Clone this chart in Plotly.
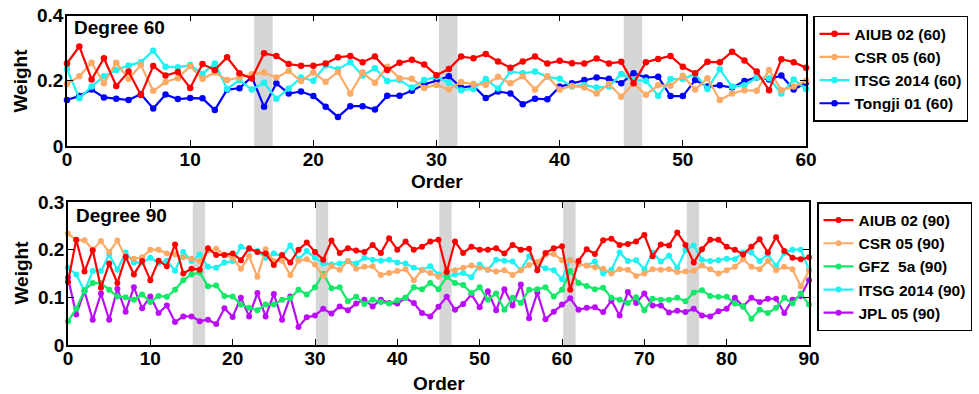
import plotly.graph_objects as go

# ---------------- data ----------------
order60 = list(range(61))
order90 = list(range(91))

aiub60 = [0.253,0.305,0.204,0.269,0.184,0.228,0.156,0.245,0.216,0.227,
          0.178,0.251,0.233,0.272,0.223,0.207,0.284,0.276,0.251,0.246,
          0.246,0.253,0.272,0.276,0.257,0.274,0.233,0.255,0.264,0.250,
          0.217,0.236,0.274,0.269,0.282,0.259,0.240,0.259,0.274,0.253,
          0.261,0.254,0.253,0.268,0.253,0.258,0.192,0.257,0.267,0.276,
          0.243,0.223,0.258,0.257,0.289,0.262,0.228,0.171,0.266,0.257,0.240]
csr60 = [0.190,0.214,0.255,0.192,0.255,0.206,0.248,0.169,0.196,0.208,
         0.245,0.206,0.225,0.202,0.210,0.220,0.225,0.210,0.230,0.199,
         0.225,0.197,0.227,0.161,0.225,0.194,0.243,0.208,0.206,0.178,
         0.187,0.173,0.196,0.190,0.188,0.212,0.192,0.214,0.173,0.214,
         0.173,0.184,0.179,0.161,0.190,0.151,0.192,0.157,0.186,0.185,
         0.215,0.173,0.208,0.141,0.161,0.171,0.169,0.233,0.171,0.182,0.200]
itsg60 = [0.236,0.146,0.182,0.214,0.233,0.247,0.257,0.292,0.243,0.241,
          0.248,0.221,0.253,0.175,0.202,0.173,0.194,0.145,0.176,0.210,
          0.200,0.247,0.235,0.257,0.216,0.238,0.199,0.202,0.179,0.202,
          0.212,0.194,0.171,0.175,0.205,0.176,0.228,0.223,0.228,0.212,
          0.206,0.182,0.187,0.179,0.182,0.221,0.202,0.200,0.154,0.205,
          0.205,0.221,0.175,0.235,0.182,0.186,0.210,0.208,0.161,0.204,0.175]
tongji60 = [0.141,0.153,0.173,0.149,0.145,0.141,0.159,0.115,0.158,0.144,
            0.147,0.146,0.110,0.173,0.177,0.212,0.120,0.192,0.161,0.167,
            0.153,0.120,0.089,0.122,0.122,0.112,0.154,0.154,0.169,0.189,
            0.200,0.214,0.179,0.184,0.147,0.167,0.161,0.128,0.145,0.143,
            0.182,0.192,0.202,0.210,0.206,0.192,0.223,0.210,0.212,0.153,
            0.153,0.202,0.182,0.186,0.179,0.199,0.210,0.204,0.216,0.173,0.194]

aiub90 = [0.132,0.221,0.154,0.199,0.120,0.171,0.130,0.185,0.148,0.176,
          0.136,0.177,0.165,0.211,0.150,0.160,0.158,0.203,0.189,0.189,
          0.192,0.178,0.203,0.195,0.192,0.168,0.189,0.173,0.200,0.215,
          0.195,0.179,0.219,0.193,0.203,0.198,0.195,0.210,0.193,0.224,
          0.200,0.217,0.200,0.206,0.217,0.221,0.153,0.217,0.193,0.206,
          0.200,0.200,0.203,0.192,0.210,0.200,0.202,0.157,0.193,0.203,
          0.207,0.116,0.176,0.201,0.191,0.220,0.223,0.210,0.212,0.217,
          0.231,0.186,0.211,0.209,0.236,0.210,0.173,0.201,0.221,0.221,
          0.206,0.200,0.190,0.206,0.222,0.194,0.226,0.197,0.183,0.180,0.184]
csr90 = [0.234,0.220,0.220,0.200,0.218,0.195,0.219,0.184,0.181,0.184,
         0.200,0.200,0.192,0.190,0.184,0.181,0.176,0.198,0.202,0.189,
         0.183,0.160,0.186,0.143,0.201,0.176,0.177,0.147,0.177,0.180,
         0.169,0.145,0.165,0.158,0.176,0.160,0.164,0.165,0.147,0.151,
         0.155,0.159,0.136,0.157,0.151,0.143,0.156,0.157,0.162,0.167,
         0.162,0.158,0.154,0.157,0.147,0.157,0.168,0.174,0.190,0.191,
         0.178,0.178,0.170,0.166,0.163,0.160,0.150,0.159,0.158,0.145,
         0.150,0.159,0.158,0.159,0.153,0.154,0.155,0.167,0.159,0.150,
         0.157,0.164,0.180,0.164,0.159,0.176,0.157,0.164,0.159,0.123,0.156]
gfz90 = [0.050,0.076,0.115,0.130,0.130,0.116,0.102,0.100,0.095,0.106,
         0.090,0.103,0.101,0.116,0.136,0.148,0.152,0.123,0.125,0.103,
         0.102,0.085,0.078,0.073,0.085,0.085,0.095,0.098,0.116,0.106,
         0.121,0.149,0.119,0.121,0.092,0.101,0.086,0.095,0.090,0.087,
         0.094,0.099,0.121,0.117,0.130,0.117,0.143,0.130,0.126,0.109,
         0.121,0.095,0.108,0.074,0.099,0.088,0.116,0.117,0.121,0.102,
         0.116,0.155,0.130,0.124,0.117,0.120,0.099,0.095,0.088,0.100,
         0.073,0.097,0.095,0.095,0.099,0.092,0.110,0.115,0.103,0.101,
         0.101,0.087,0.081,0.055,0.074,0.067,0.078,0.099,0.087,0.108,0.085]
itsg90 = [0.162,0.148,0.113,0.155,0.155,0.190,0.158,0.194,0.173,0.173,
          0.183,0.172,0.177,0.156,0.195,0.176,0.190,0.164,0.162,0.173,
          0.176,0.206,0.200,0.197,0.183,0.192,0.186,0.209,0.180,0.197,
          0.183,0.171,0.169,0.171,0.176,0.171,0.183,0.179,0.177,0.179,
          0.173,0.171,0.162,0.158,0.165,0.148,0.143,0.148,0.151,0.142,
          0.169,0.158,0.179,0.177,0.175,0.157,0.186,0.167,0.161,0.157,
          0.138,0.179,0.169,0.167,0.175,0.150,0.158,0.194,0.176,0.178,
          0.159,0.194,0.175,0.187,0.162,0.199,0.209,0.179,0.176,0.178,
          0.181,0.180,0.194,0.194,0.176,0.190,0.166,0.193,0.200,0.200,0.159]
jpl90 = [0.141,0.064,0.113,0.053,0.108,0.053,0.118,0.070,0.121,0.077,
         0.102,0.067,0.083,0.048,0.060,0.060,0.050,0.053,0.044,0.077,
         0.059,0.099,0.060,0.109,0.060,0.107,0.053,0.102,0.038,0.058,
         0.062,0.076,0.066,0.081,0.073,0.087,0.095,0.081,0.095,0.088,
         0.087,0.099,0.088,0.067,0.060,0.080,0.101,0.074,0.086,0.106,
         0.079,0.113,0.073,0.117,0.083,0.127,0.056,0.110,0.054,0.070,
         0.085,0.098,0.074,0.078,0.079,0.069,0.093,0.062,0.111,0.088,
         0.108,0.083,0.083,0.068,0.072,0.069,0.076,0.062,0.060,0.071,
         0.076,0.099,0.081,0.099,0.090,0.097,0.097,0.067,0.095,0.103,0.136]

# shaded order ranges
bands60 = [(15.2, 16.7), (30.2, 31.7), (45.2, 46.7)]
bands90 = [(15.15, 16.65), (30.1, 31.6), (45.1, 46.6), (60.15, 61.65), (75.15, 76.65)]

names60 = ["AIUB 02 (60)", "CSR 05 (60)", "ITSG 2014 (60)", "Tongji 01 (60)"]
names90 = ["AIUB 02 (90)", "CSR 05 (90)", "GFZ  5a (90)", "ITSG 2014 (90)", "JPL 05 (90)"]

RED, ORANGE, CYAN, BLUE = "#FF0000", "#FDAA66", "#1FF2F2", "#0000FF"
GREEN, PURPLE = "#14E868", "#BB0CFA"

FONT = "Liberation Sans, Arial, Helvetica, sans-serif"
W, H = 979, 394

fig = go.Figure()

series60 = [(aiub60, RED), (csr60, ORANGE), (itsg60, CYAN), (tongji60, BLUE)]
series90 = [(aiub90, RED), (csr90, ORANGE), (gfz90, GREEN), (itsg90, CYAN), (jpl90, PURPLE)]

# draw in reverse so red lies on top, keep legend order via legendrank
for k in reversed(range(len(series60))):
    vals, col = series60[k]
    fig.add_trace(go.Scatter(
        x=order60, y=vals, name=names60[k], mode="lines+markers",
        line=dict(color=col, width=2.2), marker=dict(color=col, size=6.5),
        xaxis="x", yaxis="y", legend="legend", legendrank=k + 1, cliponaxis=False))

for k in reversed(range(len(series90))):
    vals, col = series90[k]
    fig.add_trace(go.Scatter(
        x=order90, y=vals, name=names90[k], mode="lines+markers",
        line=dict(color=col, width=2.2), marker=dict(color=col, size=6),
        xaxis="x2", yaxis="y2", legend="legend2", legendrank=k + 1, cliponaxis=False))

shapes = []
for a, b in bands60:
    shapes.append(dict(type="rect", xref="x", yref="y domain", x0=a, x1=b, y0=0, y1=1,
                       fillcolor="#D6D6D6", line=dict(width=0), layer="below"))
for a, b in bands90:
    shapes.append(dict(type="rect", xref="x2", yref="y2 domain", x0=a, x1=b, y0=0, y1=1,
                       fillcolor="#D6D6D6", line=dict(width=0), layer="below"))

tickfont = dict(family=FONT, size=19, color="black", weight="bold")
axcommon = dict(showgrid=False, zeroline=False, showline=True, linecolor="black",
                linewidth=1.5, mirror="ticks", ticks="inside", ticklen=6,
                tickwidth=1.3, tickcolor="black", tickfont=tickfont)
xcommon = dict(axcommon, ticklabelstandoff=-5)
ycommon = dict(axcommon, ticklabelstandoff=-2)

def px_x(p):
    return p / W

def px_y(p):
    return 1 - p / H

legfont = dict(family=FONT, size=15.5, color="black", weight="bold")

fig.update_layout(
    width=W, height=H,
    margin=dict(l=0, r=0, t=0, b=0, autoexpand=False),
    paper_bgcolor="white", plot_bgcolor="white",
    xaxis=dict(domain=[px_x(67), px_x(806)], range=[0, 60], tickvals=list(range(0, 61, 10)),
               anchor="y", **xcommon),
    yaxis=dict(domain=[px_y(146), px_y(15.5)], range=[0, 0.4], tickvals=[0, 0.2, 0.4],
               ticktext=["0", "0.2", "0.4"], anchor="x", **ycommon),
    xaxis2=dict(domain=[px_x(68), px_x(809)], range=[0, 90], tickvals=list(range(0, 91, 10)),
                anchor="y2", **xcommon),
    yaxis2=dict(domain=[px_y(345), px_y(202)], range=[0, 0.3], tickvals=[0, 0.1, 0.2, 0.3],
                ticktext=["0", "0.1", "0.2", "0.3"], anchor="x2", **ycommon),
    shapes=shapes,
    showlegend=True,
    legend=dict(x=px_x(813), y=px_y(15.7), xanchor="left", yanchor="top",
                bordercolor="black", borderwidth=1.5, bgcolor="white",
                font=legfont, tracegroupgap=0),
    legend2=dict(x=px_x(817), y=px_y(202), xanchor="left", yanchor="top",
                 bordercolor="black", borderwidth=1.5, bgcolor="white",
                 font=legfont, tracegroupgap=0),
)

annfont = dict(family=FONT, size=19, color="black", weight="bold")
anns = [
    dict(text="Degree 60", x=px_x(72), y=px_y(28), xref="paper", yref="paper",
         xanchor="left", yanchor="middle", showarrow=False, font=annfont),
    dict(text="Degree 90", x=px_x(74), y=px_y(215), xref="paper", yref="paper",
         xanchor="left", yanchor="middle", showarrow=False, font=annfont),
    dict(text="Order", x=px_x(436.5), y=px_y(181), xref="paper", yref="paper",
         xanchor="center", yanchor="middle", showarrow=False, font=annfont),
    dict(text="Order", x=px_x(438.5), y=px_y(383), xref="paper", yref="paper",
         xanchor="center", yanchor="middle", showarrow=False, font=annfont),
    dict(text="Weight", x=px_x(20), y=px_y(80.5), xref="paper", yref="paper",
         xanchor="center", yanchor="middle", showarrow=False, textangle=-90, font=annfont),
    dict(text="Weight", x=px_x(20.5), y=px_y(273), xref="paper", yref="paper",
         xanchor="center", yanchor="middle", showarrow=False, textangle=-90, font=annfont),
]
fig.update_layout(annotations=anns)

fig.write_html(
    "out.html",
    config={"displayModeBar": False},
    post_script="document.body.style.margin='0';document.body.style.overflow='hidden';",
)
